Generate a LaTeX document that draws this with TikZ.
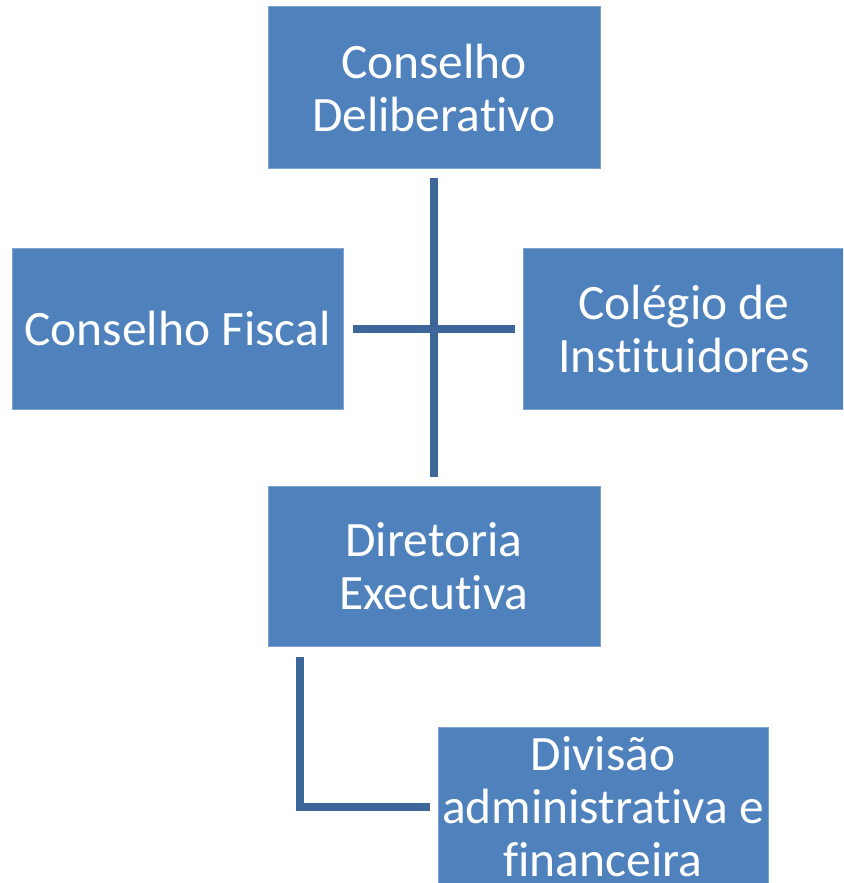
\documentclass[tikz,border=0pt]{standalone}
\usepackage{fontspec}
\setmainfont{Carlito}[Ligatures={NoCommon}]
\definecolor{boxblue}{HTML}{4F81BD}
\definecolor{boxedge}{HTML}{7FA3D0}
\definecolor{lineblue}{HTML}{3D6699}
\begin{document}
\begin{tikzpicture}[x=1pt,y=-1pt,
  orgbox/.style={draw=boxedge,line width=1pt,fill=boxblue,text=white,align=center,
    inner sep=0pt,font=\fontsize{49.5}{53}\selectfont},
  conn/.style={draw=lineblue,line width=8pt}]
\useasboundingbox (0,0) rectangle (843,883);
\clip (0,0) rectangle (843,883);
\node[orgbox,minimum width=332pt,minimum height=161pt] (cd) at (434,87.5) {Conselho\\Deliberativo};
\node[orgbox,minimum width=331pt,minimum height=161pt] (cf) at (177.5,328.5) {Conselho Fiscal};
\node[orgbox,minimum width=322pt,minimum height=161pt] (ci) at (684,328.5) {Colégio de\\Instituidores};
\node[orgbox,minimum width=332pt,minimum height=160pt] (de) at (434,566.5) {Diretoria\\Executiva};
\node[orgbox,minimum width=330pt,minimum height=160pt] (dv) at (603,807) {Divisão\\administrativa e\\financeira};
\draw[conn] ([yshift=-9pt]cd.south) -- ([yshift=9pt]de.north);
\draw[conn] ([xshift=9pt]cf.east) -- ([xshift=-8pt]ci.west);
\draw[conn] ([xshift=32pt,yshift=-10pt]de.south west) |- ([xshift=-8pt]dv.west);
\end{tikzpicture}
\end{document}
